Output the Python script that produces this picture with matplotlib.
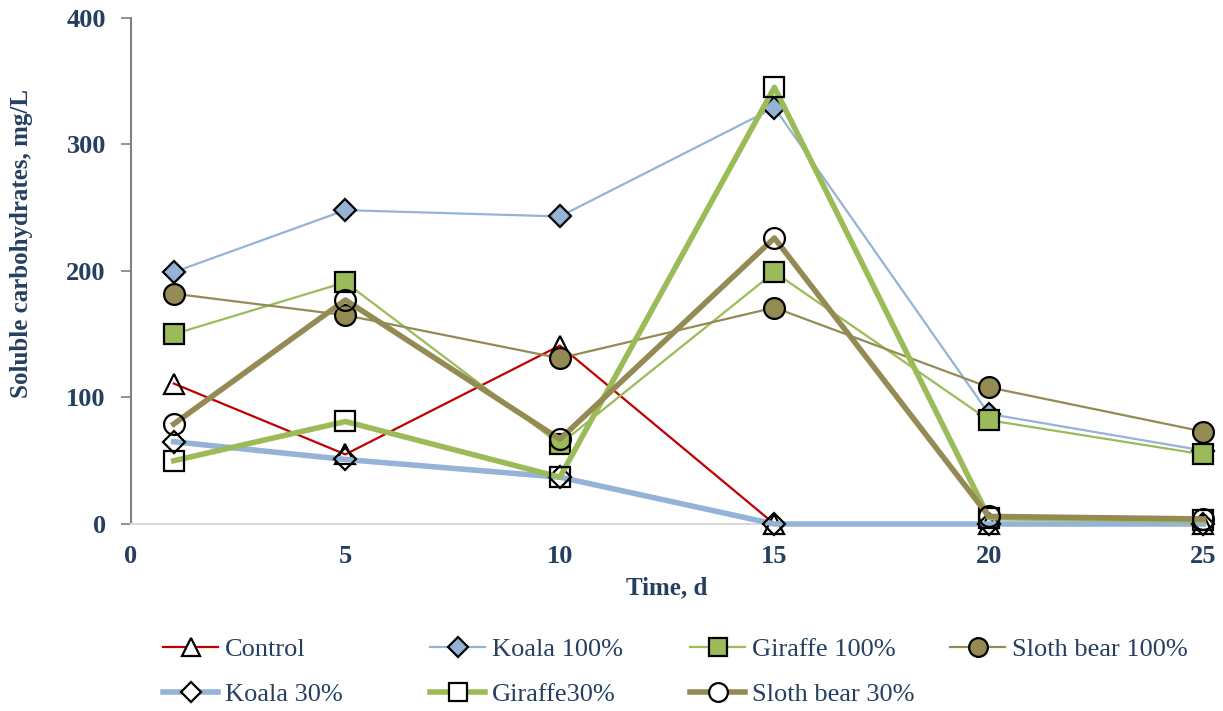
import matplotlib
matplotlib.use("Agg")
import matplotlib.pyplot as plt
from matplotlib.lines import Line2D

plt.rcParams['font.family'] = ['Liberation Serif', 'DejaVu Serif']

days = [1, 5, 10, 15, 20, 25]
control = [111, 55, 141, 0, 0, 0]
koala_100 = [199, 248, 243, 329, 87, 58]
giraffe_100 = [150, 191, 63, 199, 82, 55]
sloth_100 = [182, 165, 131, 171, 108, 73]
koala_30 = [65, 51, 37, 0, 0, 0]
giraffe_30 = [50, 81, 37, 345, 5, 3]
sloth_30 = [79, 177, 67, 226, 6, 4]

x_ticks = [0, 5, 10, 15, 20, 25]
y_ticks = [0, 100, 200, 300, 400]

RED = '#C00000'
BLUE = '#95B3D7'
GREEN = '#9BBB59'
OLIVE = '#948A54'
TXT = '#243F60'

series = [
    ('Control', control, RED, 1.6, '^', 'white', 14),
    ('Koala 100%', koala_100, BLUE, 1.6, 'D', BLUE, 11),
    ('Giraffe 100%', giraffe_100, GREEN, 1.6, 's', GREEN, 15),
    ('Sloth bear 100%', sloth_100, OLIVE, 1.6, 'o', OLIVE, 15),
    ('Koala 30%', koala_30, BLUE, 4.0, 'D', 'white', 11),
    ('Giraffe30%', giraffe_30, GREEN, 4.0, 's', 'white', 15),
    ('Sloth bear 30%', sloth_30, OLIVE, 4.0, 'o', 'white', 15),
]

fig = plt.figure(figsize=(12.23, 7.11), dpi=100)
ax = fig.add_axes([0.107, 0.263, 0.877, 0.712])

handles = {}
for name, vals, col, lw, mk, fc, ms in series:
    mfc = 'none' if fc == 'white' else fc
    ax.plot(days, vals, color=col, lw=lw, marker=mk, ms=ms, mfc=mfc,
            mec='black', mew=1.6, zorder=3, clip_on=False)
    handles[name] = Line2D([], [], color=col, lw=lw, marker=mk, ms=ms * 0.9,
                           mfc=fc, mec='black', mew=1.6)

ax.set_xlim(0, 25)
ax.set_ylim(0, 400)
ax.set_xticks(x_ticks)
ax.set_yticks(y_ticks)
ax.tick_params(axis='x', length=0, pad=15, labelsize=19, labelcolor=TXT)
ax.tick_params(axis='y', length=7, width=1.2, color='#808080', pad=11,
               labelsize=19, labelcolor=TXT)
for lab in ax.get_xticklabels() + ax.get_yticklabels():
    lab.set_fontweight('bold')
for s in ['top', 'right']:
    ax.spines[s].set_visible(False)
ax.spines['left'].set_color('#808080')
ax.spines['left'].set_linewidth(1.5)
ax.spines['bottom'].set_color('#D9D9D9')
ax.spines['bottom'].set_linewidth(1.5)

ax.set_xlabel('Time, d', fontsize=18, fontweight='bold', color=TXT, labelpad=6)
ax.set_ylabel('Soluble carbohydrates, mg/L', fontsize=18, fontweight='bold',
              color=TXT)
ax.yaxis.set_label_coords(-0.091, 0.555)

columns = [['Control', 'Koala 30%'], ['Koala 100%', 'Giraffe30%'],
           ['Giraffe 100%', 'Sloth bear 30%'], ['Sloth bear 100%']]
col_x = [163, 430, 690, 950]
W, H = 1223.0, 711.0
for names, px in zip(columns, col_x):
    leg = fig.legend([handles[n] for n in names], names, loc='upper left',
                     bbox_to_anchor=(px / W, (H - 638) / H), frameon=False,
                     fontsize=19, handlelength=2.1, handletextpad=0.25,
                     labelspacing=0.8, borderpad=0, borderaxespad=0)
    for t in leg.get_texts():
        t.set_color(TXT)

fig.savefig('out.png', dpi=100)
